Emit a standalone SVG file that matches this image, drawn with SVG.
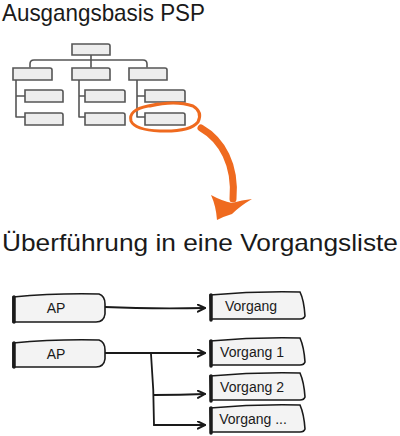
<svg xmlns="http://www.w3.org/2000/svg" width="400" height="436" viewBox="0 0 400 436">
<defs>
<style>
.t{font-family:"Liberation Sans","DejaVu Sans",sans-serif;fill:#1a1a1a}
.tb{fill:#ededed;stroke:#555;stroke-width:1.6}
.tl{fill:none;stroke:#555;stroke-width:1.6;stroke-linecap:round}
.nb{fill:#f3f3f3;stroke:#1a1a1a;stroke-width:1.6}
.nl{fill:none;stroke:#1a1a1a;stroke-width:3.5;stroke-linecap:round}
.c{fill:none;stroke:#1a1a1a;stroke-width:1.8;stroke-linecap:round}
.bt{font-family:"Liberation Sans","DejaVu Sans",sans-serif;font-size:14px;fill:#1a1a1a;text-anchor:middle}
</style>
<marker id="ah" viewBox="0 0 10 10" refX="9" refY="5" markerWidth="9" markerHeight="9" markerUnits="userSpaceOnUse" orient="auto">
<path d="M1,1 L9,5 L1,9" fill="none" stroke="#1a1a1a" stroke-width="2.2" stroke-linecap="round" stroke-linejoin="round"/>
</marker>
</defs>

<text class="t" x="2" y="21" font-size="24" textLength="203" lengthAdjust="spacingAndGlyphs">Ausgangsbasis PSP</text>

<g id="psp-tree">
<path class="tl" d="M91,55 V60 M30,67 V64 Q30,60 34,60 H143 Q147,60 147,64 V67 M91,60 V67"/>
<path class="tl" d="M16,80 V117 M16,96 H25 M16,117 H25"/>
<path class="tl" d="M79,80 V117 M79,96 H85 M79,117 H85"/>
<path class="tl" d="M137,80 V117 M137,96 H145 M137,117 H145"/>
<path class="tb" d="M72,44 H108 Q110,44 110,46 V55 H72 Z"/>
<path class="tb" d="M13,68 H50 Q52,68 52,70 V80 H13 Z"/>
<path class="tb" d="M72,68 H108 Q110,68 110,70 V80 H72 Z"/>
<path class="tb" d="M129,68 H165 Q167,68 167,70 V80 H129 Z"/>
<path class="tb" d="M25,90 H61 Q63,90 63,92 V102 H25 Z"/>
<path class="tb" d="M25,113 H61 Q63,113 63,115 V125 H25 Z"/>
<path class="tb" d="M85,90 H123 Q125,90 125,92 V102 H85 Z"/>
<path class="tb" d="M85,113 H123 Q125,113 125,115 V125 H85 Z"/>
<path class="tb" d="M145,90 H183 Q185,90 185,92 V102 H145 Z"/>
<path class="tb" d="M145,113 H183 Q185,113 185,115 V125 H145 Z"/>
</g>

<g id="highlight">
<path d="M150,106 Q175,100 193,106 Q203,112 198,122 Q190,132 160,131 Q135,130 131,121 Q128,110 148,106 L158,104" fill="none" stroke="#ef6a1f" stroke-width="3" stroke-linecap="round"/>
<path d="M201,128 C222,140 236,165 233,199" fill="none" stroke="#ef6a1f" stroke-width="7" stroke-linecap="round"/>
<path d="M211,195 Q222,201 232,203 Q242,200 252,199 Q240,206 232,214 Q225,216 217,220 Q216,206 211,195 Z" fill="#ef6a1f"/>
</g>

<text class="t" x="2" y="251" font-size="24" textLength="396" lengthAdjust="spacingAndGlyphs">Überführung in eine Vorgangsliste</text>

<g id="connectors">
<path class="c" d="M105,307 Q150,309 205,308" marker-end="url(#ah)"/>
<path class="c" d="M105,353 H205" marker-end="url(#ah)"/>
<path class="c" d="M151,354 Q154,390 154,425" stroke-width="2.8"/>
<path class="c" d="M154,395 Q180,395 205,394" marker-end="url(#ah)"/>
<path class="c" d="M154,425 H205" marker-end="url(#ah)"/>
</g>

<g id="ap1">
<path class="nb" d="M13,297 Q55,293 99,294 Q105,296 105,304 V314 Q104,322 96,322 H13 Z"/>
<path class="nl" d="M14,297 V322"/>
<text class="bt" x="56" y="313">AP</text>
</g>
<g id="ap2">
<path class="nb" d="M13,343 Q55,339 99,340 Q105,342 105,350 V359 Q104,367 96,367 H13 Z"/>
<path class="nl" d="M14,343 V367"/>
<text class="bt" x="56" y="359">AP</text>
</g>

<g id="vorgang">
<path class="nb" d="M210,295 Q255,291 300,292 Q304,300 305,316 Q304,319 300,319 H211 Z"/>
<path class="nl" d="M211,295 V320"/>
<text class="bt" x="251" y="311">Vorgang</text>
</g>
<g id="vorgang1">
<path class="nb" d="M210,341 Q255,337 300,338 Q304,347 305,362 Q304,365 300,365 H211 Z"/>
<path class="nl" d="M211,341 V366"/>
<text class="bt" x="252" y="357">Vorgang 1</text>
</g>
<g id="vorgang2">
<path class="nb" d="M210,376 Q255,372 300,373 Q304,382 305,397 Q304,400 300,400 H211 Z"/>
<path class="nl" d="M211,376 V401"/>
<text class="bt" x="252" y="392">Vorgang 2</text>
</g>
<g id="vorgang3">
<path class="nb" d="M210,408 Q255,404 300,405 Q304,414 305,429 Q304,432 300,432 H211 Z"/>
<path class="nl" d="M211,408 V433"/>
<text class="bt" x="253" y="424">Vorgang ...</text>
</g>
</svg>
